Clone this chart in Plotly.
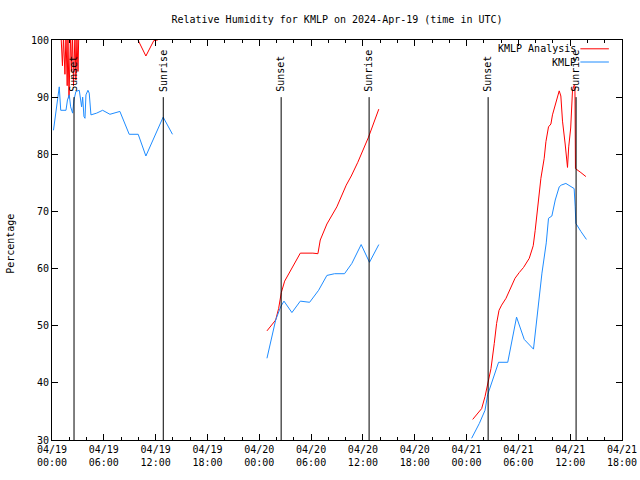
import plotly.graph_objects as go
import pandas as pd

BASE = pd.Timestamp("2024-04-19 00:00")
FONT = "DejaVu Sans Mono"

# ---- data: hours since 2024-04-19 00:00 UTC, relative humidity (%) ----
# KMLP Analysis (red)
ana_d1_h = [0.06, 1.04, 1.21, 1.33, 1.50, 1.62, 1.76, 1.85, 1.97, 2.14, 2.25, 2.37,
            2.49, 2.66, 2.77, 2.89, 3.01, 3.10, 9.83, 10.87, 11.79, 12.25, 12.49, 13.95]
ana_d1_rh = [101, 101, 95.5, 100.5, 94.0, 101, 92.0, 100.5, 89.8, 101, 94.5, 101,
             92.0, 101, 93.0, 100.5, 94.5, 101, 100.4, 97.2, 99.9, 100.0, 101, 101]

ana_d2_h = [24.89, 25.90, 26.24, 26.55, 26.94, 27.71, 28.75, 30.21, 30.79, 31.06,
            31.83, 32.98, 34.07, 34.65, 35.41, 36.65, 37.84]
ana_d2_rh = [49.1, 51.0, 53.0, 55.8, 57.8, 60.0, 62.7, 62.7, 62.6, 65.0,
             67.8, 70.8, 74.6, 76.2, 78.6, 83.0, 87.9]

ana_d3_h = [48.71, 49.48, 49.75, 50.14, 50.44, 50.83, 51.21, 51.48, 51.76, 52.06,
            52.57, 53.14, 53.61, 54.10, 54.60, 55.26, 55.72, 55.95, 56.22, 56.61,
            56.99, 57.19, 57.49, 57.77, 57.95, 58.27, 58.53, 58.73, 58.92, 59.11,
            59.42, 59.69, 59.83, 60.06, 60.27, 60.46, 60.55, 60.61, 61.24, 61.82]
ana_d3_rh = [33.6, 35.0, 35.5, 37.6, 39.9, 42.5, 46.9, 50.4, 52.7, 53.6,
             54.8, 56.6, 58.3, 59.3, 60.2, 61.8, 64.0, 66.7, 70.8, 75.8,
             79.3, 82.2, 84.8, 85.3, 86.9, 88.6, 90.1, 91.1, 90.2, 85.8,
             81.8, 77.7, 81.3, 84.6, 91.2, 92.1, 92.0, 77.5, 76.8, 76.1]

# KMLP observations (blue)
obs_d1_h = [0.17, 0.61, 0.84, 1.01, 1.62, 1.79, 2.00, 2.16, 2.39, 2.54, 2.77, 3.16,
            3.43, 3.55, 3.70, 3.82, 3.93, 4.16, 4.31, 4.51, 5.17, 5.86, 6.71, 7.86,
            8.94, 9.98, 10.87, 12.87, 13.95]
obs_d1_rh = [84.2, 88.9, 91.8, 87.7, 87.7, 89.5, 90.4, 88.3, 87.2, 89.5, 91.0, 91.2,
             88.3, 90.0, 86.6, 86.3, 90.4, 91.2, 90.7, 86.9, 87.2, 87.7, 87.0, 87.5,
             83.5, 83.5, 79.7, 86.5, 83.5]

obs_d2_h = [24.89, 25.90, 26.47, 26.86, 27.78, 28.75, 29.83, 30.87, 31.83, 32.72,
            33.87, 34.72, 35.80, 36.76, 37.84]
obs_d2_rh = [44.3, 51.0, 53.3, 54.3, 52.3, 54.3, 54.1, 56.2, 58.8, 59.1,
             59.1, 60.9, 64.2, 61.1, 64.2]

obs_d3_h = [48.59, 49.48, 50.14, 50.44, 51.71, 52.77, 53.79, 54.28, 54.68, 55.75,
            56.34, 56.73, 57.23, 57.49, 57.88, 58.27, 58.73, 58.96, 59.50, 60.08,
            60.46, 60.58, 60.66, 61.24, 61.88]
obs_d3_rh = [30.3, 32.9, 35.2, 37.9, 43.6, 43.6, 51.5, 49.2, 47.6, 45.9,
             54.5, 59.2, 64.5, 68.8, 69.2, 72.0, 74.3, 74.6, 74.9, 74.4,
             74.0, 70.8, 67.9, 66.5, 65.1]

sunset_times = ["2024-04-19 02:33", "2024-04-20 02:32", "2024-04-21 02:30"]
sunrise_times = ["2024-04-19 12:53", "2024-04-20 12:43", "2024-04-21 12:41"]

series_names = ["KMLP Analysis", "KMLP"]
series_colors = ["#ff0000", "#1e8cff"]


def join_segments(segments):
    xs, ys = [], []
    for i, (hrs, vals) in enumerate(segments):
        if i:
            xs.append(None)
            ys.append(None)
        xs += [BASE + pd.Timedelta(hours=h) for h in hrs]
        ys += list(vals)
    return xs, ys


ana_x, ana_y = join_segments([(ana_d1_h, ana_d1_rh), (ana_d2_h, ana_d2_rh), (ana_d3_h, ana_d3_rh)])
obs_x, obs_y = join_segments([(obs_d1_h, obs_d1_rh), (obs_d2_h, obs_d2_rh), (obs_d3_h, obs_d3_rh)])

fig = go.Figure()
fig.add_trace(go.Scatter(x=ana_x, y=ana_y, mode="lines", name=series_names[0],
                         line=dict(color=series_colors[0], width=1), connectgaps=False,
                         showlegend=False))
fig.add_trace(go.Scatter(x=obs_x, y=obs_y, mode="lines", name=series_names[1],
                         line=dict(color=series_colors[1], width=1), connectgaps=False,
                         showlegend=False))

# sunrise / sunset markers
for label, times in (("Sunset", sunset_times), ("Sunrise", sunrise_times)):
    for t in times:
        fig.add_shape(type="line", xref="x", yref="y", x0=t, x1=t, y0=30, y1=90,
                      line=dict(color="black", width=1))
        fig.add_annotation(x=t, y=90.6, xref="x", yref="y", text=label, showarrow=False,
                           textangle=-90, xanchor="center", yanchor="bottom",
                           font=dict(family=FONT, size=10, color="black"))

# gnuplot-style key (text then line sample)
key_y = [0.978, 0.945]
for name, color, ky in zip(series_names, series_colors, key_y):
    fig.add_annotation(x=0.922, y=ky, xref="paper", yref="paper", text=name,
                       showarrow=False, xanchor="right", yanchor="middle",
                       font=dict(family=FONT, size=10, color="black"))
    fig.add_shape(type="line", xref="paper", yref="paper", x0=0.927, x1=0.977,
                  y0=ky, y1=ky, line=dict(color=color, width=1))

fig.add_annotation(x=-0.074, y=0.49, xref="paper", yref="paper", text="Percentage",
                   showarrow=False, textangle=-90, xanchor="center", yanchor="middle",
                   font=dict(family=FONT, size=10, color="black"))

fig.update_layout(
    width=640, height=480, autosize=False,
    paper_bgcolor="white", plot_bgcolor="white",
    margin=dict(l=52, r=18, t=40, b=40, autoexpand=False),
    title=dict(text="Relative Humidity for KMLP on 2024-Apr-19 (time in UTC)",
               x=0.5, xref="paper", xanchor="center", y=0.96, yref="container",
               yanchor="middle", font=dict(family=FONT, size=10, color="black")),
    font=dict(family=FONT, size=10, color="black"),
    showlegend=False,
)
fig.update_xaxes(
    type="date", range=["2024-04-19 00:00", "2024-04-21 18:00"], automargin=False,
    tick0="2024-04-19 00:00", dtick=6 * 3600 * 1000, tickformat="%m/%d<br>%H:%M",
    ticks="inside", ticklen=6, tickcolor="black", showline=True, linecolor="black",
    linewidth=1, mirror="ticks", showgrid=False, zeroline=False,
    tickfont=dict(family=FONT, size=10, color="black"),
    minor=dict(dtick=2 * 3600 * 1000, ticks="inside", ticklen=3, tickcolor="black",
               showgrid=False),
)
fig.update_yaxes(
    range=[30, 100], tick0=30, dtick=10, ticks="inside", ticklen=6, tickcolor="black",
    showline=True, linecolor="black", linewidth=1, mirror="ticks", showgrid=False,
    zeroline=False, automargin=False, tickfont=dict(family=FONT, size=10, color="black"),
)

fig.write_html("out.html", config={"displayModeBar": False},
               post_script="document.body.style.margin='0px';document.body.style.overflow='hidden';")
